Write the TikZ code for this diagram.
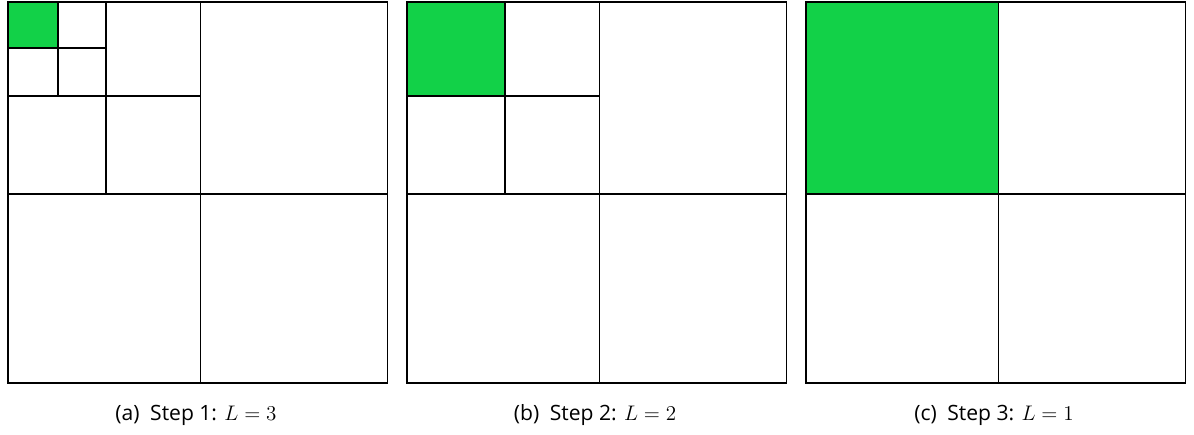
\documentclass[tikz,border=0pt]{standalone}
\usepackage{fontspec}
\setmainfont{Open Sans}
\usepackage{tikz}
\definecolor{cellGreen}{RGB}{18,209,72}

\begin{document}
\begin{tikzpicture}[
    x=0.02cm, y=-0.02cm,
    grid/.style={line width=1.1pt, draw=black},
    active/.style={fill=cellGreen},
    caption/.style={font=\fontsize{12}{14}\selectfont, anchor=base}
  ]
    \useasboundingbox (0,0) rectangle (1194,435);

    % one panel per refinement step, finest level first
    \foreach \px/\lev/\tag/\num/\gx/\gy in {8/3/a/1/49.7/46.3, 407/2/b/2/97.7/93.7, 806/1/c/3/192.5/192} {
      \begin{scope}[shift={(\px,2)}]
        \fill[active] (0,0) rectangle (\gx,\gy);
        % split lines: position, then extent of the parent cell
        \foreach \hx/\hy/\wx/\wy/\k in {192.5/192/379.5/381/1, 97.7/93.7/192.5/192/2, 49.7/46.3/97.7/93.7/3} {
          \ifnum\k>\lev\else
            \draw[grid] (\hx,0) -- (\hx,\wy) (0,\hy) -- (\wx,\hy);
          \fi
        }
        \draw[grid] (0,0) rectangle (379.5,381);
      \end{scope}
      \node[caption] (cap\tag) at (\px+188,421) {(\tag)\enspace Step \num: $L=\lev$};
    }
  \end{tikzpicture}
\end{document}
